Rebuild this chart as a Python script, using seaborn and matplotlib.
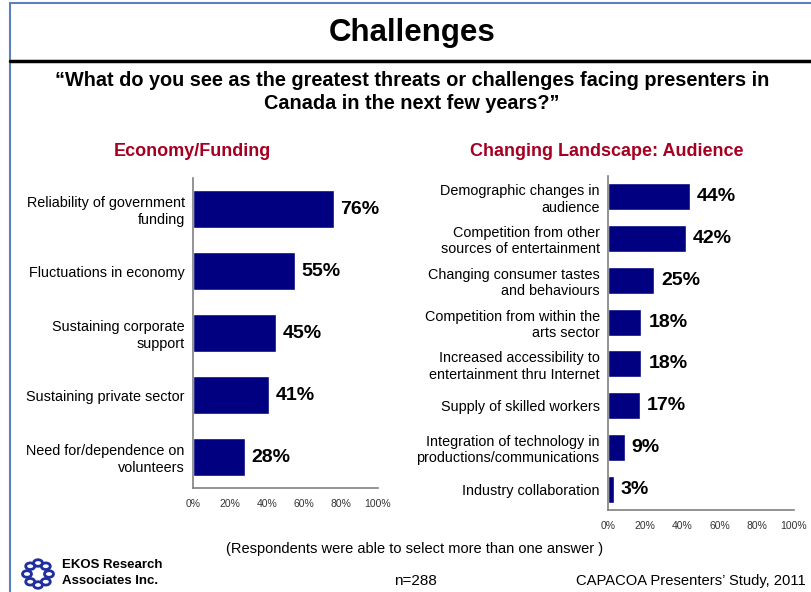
import numpy as np
import pandas as pd
import seaborn as sns
from matplotlib import pyplot as plt
from matplotlib.lines import Line2D
from matplotlib.patches import Circle

econ_labels = ["Reliability of government\nfunding", "Fluctuations in economy",
               "Sustaining corporate\nsupport", "Sustaining private sector",
               "Need for/dependence on\nvolunteers"]
econ_values = [76, 55, 45, 41, 28]

aud_labels = ["Demographic changes in\naudience", "Competition from other\nsources of entertainment",
              "Changing consumer tastes\nand behaviours", "Competition from within the\narts sector",
              "Increased accessibility to\nentertainment thru Internet", "Supply of skilled workers",
              "Integration of technology in\nproductions/communications", "Industry collaboration"]
aud_values = [44, 42, 25, 18, 18, 17, 9, 3]

x_ticks = [0, 20, 40, 60, 80, 100]
tick_labels = ["0%", "20%", "40%", "60%", "80%", "100%"]

sns.set_style("white")
plt.rcParams['font.family'] = ['Liberation Sans', 'DejaVu Sans']
plt.rcParams['text.color'] = 'black'
plt.rcParams['ytick.color'] = 'black'
plt.rcParams['ytick.labelcolor'] = 'black'

W, H = 812, 592
fig = plt.figure(figsize=(W / 100, H / 100), dpi=100)

def fx(px):
    return px / W

def fy(py):
    return 1 - py / H

# frame
fig.add_artist(Line2D([fx(10), fx(10)], [0, fy(3)], color="#5b7fc0", lw=1.5))
fig.add_artist(Line2D([fx(10), 1], [fy(3), fy(3)], color="#5b7fc0", lw=1.5))
fig.add_artist(Line2D([fx(10), 1], [fy(61), fy(61)], color="black", lw=2.5))

fig.text(fx(412), fy(33), "Challenges", ha="center", va="center", fontsize=22.5, fontweight="bold")
fig.text(fx(412), fy(92), "\u201cWhat do you see as the greatest threats or challenges facing presenters in\nCanada in the next few years?\u201d",
         ha="center", va="center", fontsize=14.3, fontweight="bold", linespacing=1.25)

fig.text(fx(192), fy(151), "Economy/Funding", ha="center", va="center", fontsize=13,
         fontweight="bold", color="#a50021")
fig.text(fx(607), fy(151), "Changing Landscape: Audience", ha="center", va="center", fontsize=13,
         fontweight="bold", color="#a50021")


def panel(rect, labels, values, bw):
    ax = fig.add_axes(rect)
    df = pd.DataFrame({"label": labels, "value": values})
    sns.barplot(data=df, x="value", y="label", orient="h", color="#000080",
                saturation=1, width=bw, ax=ax)
    ax.set_xlim(0, 100)
    ax.set_xticks(x_ticks)
    ax.set_xticklabels(tick_labels, fontsize=7.5, color="#333333")
    ax.tick_params(axis="x", direction="in", length=3, color="#808080", pad=8)
    ax.tick_params(axis="y", length=0, labelsize=10.4, pad=6, labelcolor="black")
    ax.set_xlabel("")
    ax.set_ylabel("")
    for s in ["top", "right"]:
        ax.spines[s].set_visible(False)
    for s in ["left", "bottom"]:
        ax.spines[s].set_color("#808080")
        ax.spines[s].set_linewidth(1.2)
    for c in ax.containers:
        ax.bar_label(c, labels=[f"{v}%" for v in values], padding=5,
                     fontsize=14, fontweight="bold", color="black")
    return ax


panel([fx(193), fy(488), fx(378) - fx(193), fy(178) - fy(488)], econ_labels, econ_values, 0.62)
panel([fx(608), fy(510), fx(794) - fx(608), fy(176) - fy(510)], aud_labels, aud_values, 0.65)

fig.text(fx(415), fy(549), "(Respondents were able to select more than one answer )",
         ha="center", va="center", fontsize=10.5)
fig.text(fx(415), fy(581), "n=288", ha="center", va="center", fontsize=11)
fig.text(fx(806), fy(581), "CAPACOA Presenters\u2019 Study, 2011", ha="right", va="center", fontsize=10.6)
fig.text(fx(62), fy(573), "EKOS Research\nAssociates Inc.", ha="left", va="center",
         fontsize=9.5, fontweight="bold", linespacing=1.4)

# logo: ring of small loops
ang = np.linspace(0, 2 * np.pi, 8, endpoint=False)
for a in ang:
    cx = 38 + 11 * np.cos(a)
    cy = 574 + 11 * np.sin(a)
    fig.add_artist(Circle((fx(cx), fy(cy)), 4.5 / W, transform=fig.transFigure,
                          fill=False, ec="#1f2fa0", lw=2))

fig.savefig("out.png", dpi=100)
